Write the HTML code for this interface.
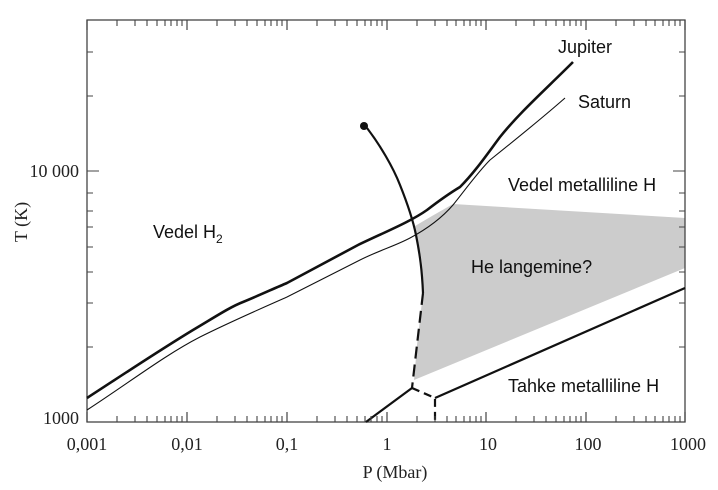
<!DOCTYPE html>
<html><head><style>
body{margin:0;background:#fff;}
svg{display:block;}
.s{font-family:"Liberation Sans",sans-serif;font-size:18px;fill:#111;}
.r{font-family:"Liberation Serif",serif;font-size:18px;fill:#222;}
</style></head><body>
<svg width="718" height="490" viewBox="0 0 718 490" xmlns="http://www.w3.org/2000/svg">
<polygon points="453,204 685,218 685,268 414,380 417,345 421,310 423,293 422,262 418,240 415,226 432,216" fill="#cccccc"/>
<rect x="87" y="20" width="598" height="402" fill="none" stroke="#444" stroke-width="1.3"/>
<path stroke="#444" stroke-width="1.2" d="
M87,422v-10 M87,20v10
M187,422v-10 M187,20v10
M287,422v-10 M287,20v10
M387,422v-10 M387,20v10
M486,422v-10 M486,20v10
M586,422v-10 M586,20v10
M685,422v-10 M685,20v10"/>
<!-- curves -->
<path d="M87,398 C130,370 160,350 193,330 C215,317 230,307 243,302 C260,295 275,288 287,283 L358,245 C385,232 410,222 427,210 C440,200 450,193 460,187 C475,172 488,153 500,137 C520,112 545,90 573,62" fill="none" stroke="#111" stroke-width="2.6"/>
<path d="M87,410 C130,382 165,355 200,337 C230,322 260,309 287,297 L360,260 C380,250 395,246 410,238 C425,230 440,220 453,205 C465,190 478,172 490,160 C515,140 540,120 565,98" fill="none" stroke="#111" stroke-width="1.1"/>
<path d="M367,128 C380,145 393,167 400,185 C408,205 413,220 416,235 C420,255 422,270 423,293" fill="none" stroke="#111" stroke-width="2.2"/>
<circle cx="364" cy="126" r="4" fill="#111"/>
<path d="M423,293 L412,388" fill="none" stroke="#111" stroke-width="2.2" stroke-dasharray="12,6"/>
<path d="M366,422 L412,388" fill="none" stroke="#111" stroke-width="2.2"/>
<path d="M412,388 L435,398 L435,422" fill="none" stroke="#111" stroke-width="2.2" stroke-dasharray="8,5"/>
<path d="M435,398 L685,288" fill="none" stroke="#111" stroke-width="2.2"/>
<!-- labels -->
<text class="s" x="558" y="53">Jupiter</text>
<text class="s" x="578" y="108">Saturn</text>
<text class="s" x="508" y="191">Vedel metalliline H</text>
<text class="s" x="153" y="238">Vedel H<tspan font-size="12" dy="5">2</tspan></text>
<text class="s" x="471" y="273">He langemine?</text>
<text class="s" x="508" y="392">Tahke metalliline H</text>
<text class="r" x="79" y="177" text-anchor="end">10 000</text>
<text class="r" x="79" y="424" text-anchor="end">1000</text>
<g class="r" text-anchor="middle">
<text x="87" y="450">0,001</text><text x="187" y="450">0,01</text><text x="287" y="450">0,1</text>
<text x="387" y="450">1</text><text x="488" y="450">10</text><text x="588" y="450">100</text><text x="688" y="450">1000</text>
</g>
<text class="r" x="395" y="478" text-anchor="middle">P (Mbar)</text>
<text class="r" transform="translate(27,222) rotate(-90)" text-anchor="middle">T (K)</text>
<path stroke="#444" stroke-width="1.1" d="
M117,422v-6M117,20v6 M135,422v-6M135,20v6 M147,422v-6M147,20v6 M157,422v-6M157,20v6 M165,422v-6M165,20v6 M171,422v-6M171,20v6 M177,422v-6M177,20v6 M182,422v-6M182,20v6
M217,422v-6M217,20v6 M235,422v-6M235,20v6 M247,422v-6M247,20v6 M257,422v-6M257,20v6 M265,422v-6M265,20v6 M271,422v-6M271,20v6 M277,422v-6M277,20v6 M282,422v-6M282,20v6
M317,422v-6M317,20v6 M335,422v-6M335,20v6 M347,422v-6M347,20v6 M357,422v-6M357,20v6 M365,422v-6M365,20v6 M371,422v-6M371,20v6 M377,422v-6M377,20v6 M382,422v-6M382,20v6
M417,422v-6M417,20v6 M435,422v-6M435,20v6 M447,422v-6M447,20v6 M456,422v-6M456,20v6 M464,422v-6M464,20v6 M470,422v-6M470,20v6 M476,422v-6M476,20v6 M481,422v-6M481,20v6
M516,422v-6M516,20v6 M534,422v-6M534,20v6 M546,422v-6M546,20v6 M556,422v-6M556,20v6 M564,422v-6M564,20v6 M570,422v-6M570,20v6 M576,422v-6M576,20v6 M581,422v-6M581,20v6
M616,422v-6M616,20v6 M634,422v-6M634,20v6 M646,422v-6M646,20v6 M655,422v-6M655,20v6 M663,422v-6M663,20v6 M669,422v-6M669,20v6 M675,422v-6M675,20v6 M680,422v-6M680,20v6
M87,171h12M685,171h-12
M87,347h6M685,347h-6 M87,303h6M685,303h-6 M87,272h6M685,272h-6 M87,247h6M685,247h-6 M87,227h6M685,227h-6 M87,211h6M685,211h-6 M87,193h6M685,193h-6
M87,96h6M685,96h-6 M87,52h6M685,52h-6
"/>
</svg>
</body></html>
